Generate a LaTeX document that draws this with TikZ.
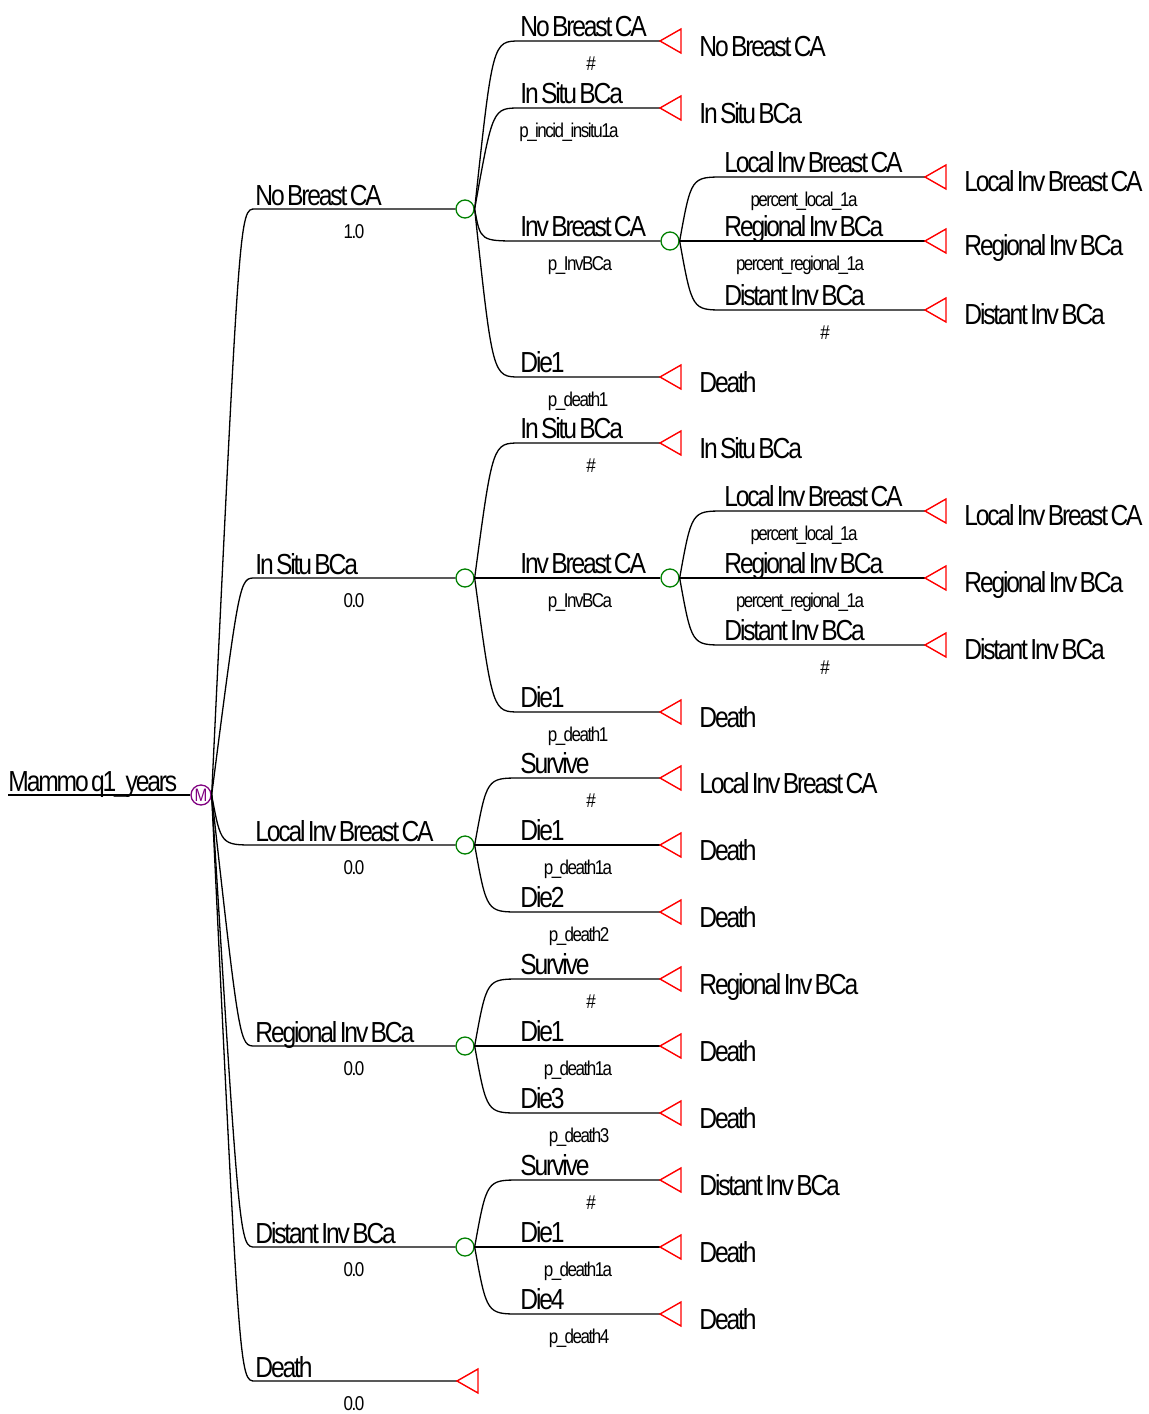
\documentclass[tikz,border=0pt]{standalone}
\usepackage{fontspec}
\setmainfont{Liberation Sans}[FakeStretch=0.85,LetterSpace=-7.5,WordSpace=0.5]
\usetikzlibrary{calc}

\definecolor{chgreen}{RGB}{0,128,0}
\definecolor{mkpurple}{RGB}{128,0,128}
\newcommand{\lblfont}{\fontsize{14.5}{15}\selectfont}
\newcommand{\smfont}{\fontsize{10}{11}\selectfont}

\tikzset{
  br/.style={line width=0.65pt},
  % rounded branch from a node to the start of its horizontal line
  fan/.style 2 args={to path={let \p1=(\tikztostart), \p2=(\tikztotarget),
      \n1={abs(\y2-\y1)}, \n2={\x1+#1*min(1,\n1/#2)} in
      .. controls (\n2,\y2) and (\n2,\y2) .. (\tikztotarget)}},
  chance/.style={circle, draw=chgreen, line width=0.65pt, minimum size=9pt, inner sep=0pt},
  markov/.style={circle, draw=mkpurple, line width=0.65pt, minimum size=10pt, inner sep=0pt,
      text=mkpurple, font=\fontsize{9}{9}\selectfont},
  tri/.style={draw=red, line width=0.7pt},
  toplab/.style={anchor=base west, inner sep=0pt, font=\lblfont},
  botlab/.style={anchor=base, inner sep=0pt, font=\smfont},
  endlab/.style={anchor=base west, inner sep=0pt, font=\lblfont}
}

\begin{document}
\begin{tikzpicture}[x=0.5pt,y=-0.5pt]
\useasboundingbox (0,0) rectangle (1149,1414);

% Markov root
\node[markov] (mk) at (201,795) {M};
\coordinate (r0) at (8,795);
\draw[br] (r0) -- (mk.west);
\node[toplab] (rootlab) at (8,791) {Mammo q1\_years};

% Markov states
\foreach \i/\yy/\s/\v in {1/209/No Breast CA/1.0, 2/578/In Situ BCa/0.0, 3/845/Local Inv Breast CA/0.0,
    4/1046/Regional Inv BCa/0.0, 5/1247/Distant Inv BCa/0.0}{
  \coordinate (m\i) at (255,\yy);
  \node[chance] (c\i) at (465,\yy) {};
  \draw[br] (mk.east) to[fan={14pt}{75pt}] (m\i) -- (c\i.west);
  \node[toplab] (ms\i) at (255,\yy-4) {\s};
  \node[botlab] (mv\i) at (354,\yy+29) {\v};
}
\coordinate (m6) at (255,1381);
\coordinate (t6) at (457,1381);
\draw[br] (mk.east) to[fan={14pt}{75pt}] (m6) -- (t6);
\draw[tri] (t6) -- ++(21,-12) -- ++(0,24) -- cycle;
\node[toplab] (ms6) at (255,1377) {Death};
\node[botlab] (mv6) at (354,1410) {0.0};

% events after each state, ending in a terminal
\foreach \i/\c/\yy/\s/\lp/\px/\e in {1/c1/41/No Breast CA/\#/591/No Breast CA,
    2/c1/108/In Situ BCa/p\_incid\_insitu1a/569/In Situ BCa,
    3/c1/377/Die1/p\_death1/578/Death,
    4/c2/443/In Situ BCa/\#/591/In Situ BCa,
    5/c2/712/Die1/p\_death1/578/Death,
    6/c3/778/Survive/\#/591/Local Inv Breast CA,
    7/c3/845/Die1/p\_death1a/578/Death,
    8/c3/912/Die2/p\_death2/579/Death,
    9/c4/979/Survive/\#/591/Regional Inv BCa,
    10/c4/1046/Die1/p\_death1a/578/Death,
    11/c4/1113/Die3/p\_death3/579/Death,
    12/c5/1180/Survive/\#/591/Distant Inv BCa,
    13/c5/1247/Die1/p\_death1a/578/Death,
    14/c5/1314/Die4/p\_death4/579/Death}{
  \coordinate (e\i) at (520,\yy);
  \coordinate (te\i) at (660,\yy);
  \draw[br] (\c.east) to[fan={9pt}{50pt}] (e\i) -- (te\i);
  \draw[tri] (te\i) -- ++(21,-12) -- ++(0,24) -- cycle;
  \node[toplab] (es\i) at (520,\yy-5) {\s};
  \node[botlab] (ep\i) at (\px,\yy+29) {\lp};
  \node[endlab] (ee\i) at (699,\yy+15) {\e};
}

% invasive cancer split
\foreach \i/\c/\yy in {1/c1/241, 2/c2/578}{
  \coordinate (v\i) at (520,\yy);
  \node[chance] (ci\i) at (670,\yy) {};
  \draw[br] (\c.east) to[fan={9pt}{50pt}] (v\i) -- (ci\i.west);
  \node[toplab] (vs\i) at (520,\yy-5) {Inv Breast CA};
  \node[botlab] (vp\i) at (580,\yy+29) {p\_InvBCa};
}
\foreach \i/\c/\yy/\s/\lp/\px in {1/ci1/177/Local Inv Breast CA/percent\_local\_1a/804,
    2/ci1/241/Regional Inv BCa/percent\_regional\_1a/800,
    3/ci1/310/Distant Inv BCa/\#/825,
    4/ci2/511/Local Inv Breast CA/percent\_local\_1a/804,
    5/ci2/578/Regional Inv BCa/percent\_regional\_1a/800,
    6/ci2/645/Distant Inv BCa/\#/825}{
  \coordinate (s\i) at (724,\yy);
  \coordinate (ts\i) at (925,\yy);
  \draw[br] (\c.east) to[fan={9pt}{50pt}] (s\i) -- (ts\i);
  \draw[tri] (ts\i) -- ++(21,-12) -- ++(0,24) -- cycle;
  \node[toplab] (ss\i) at (724,\yy-5) {\s};
  \node[botlab] (sp\i) at (\px,\yy+29) {\lp};
  \node[endlab] (se\i) at (964,\yy+14) {\s};
}
\end{tikzpicture}
\end{document}
